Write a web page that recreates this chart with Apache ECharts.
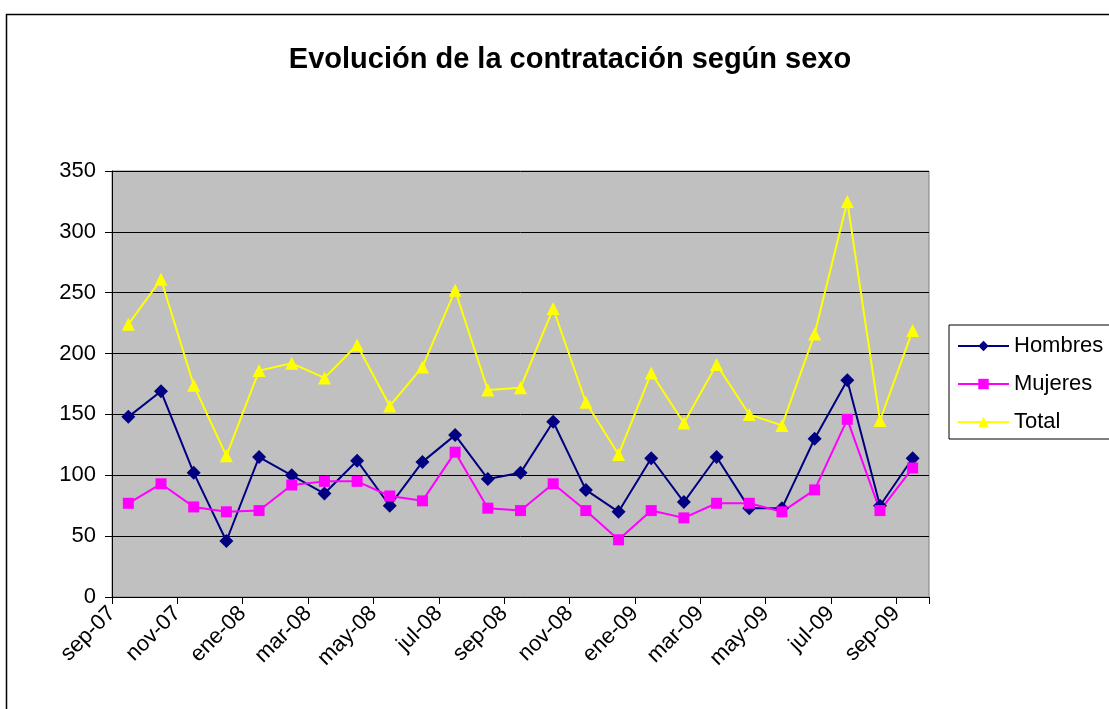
<!DOCTYPE html>
<html>
<head>
<meta charset="utf-8">
<script src="https://cdn.jsdelivr.net/npm/echarts@6/dist/echarts.min.js"></script>
<style>
  html, body { margin: 0; padding: 0; background: #fff; }
  #chart { width: 1109px; height: 709px; }
</style>
</head>
<body>
<div id="chart"></div>
<script>
  // meses (sep-07 .. sep-09)
  var meses = ['sep-07','oct-07','nov-07','dic-07','ene-08','feb-08','mar-08','abr-08','may-08',
    'jun-08','jul-08','ago-08','sep-08','oct-08','nov-08','dic-08','ene-09','feb-09','mar-09',
    'abr-09','may-09','jun-09','jul-09','ago-09','sep-09'];
  var hombres = [148, 169, 102, 46, 115, 100, 85, 112, 75, 111, 133, 97, 102, 144, 88, 70,
    114, 78, 115, 73, 73, 130, 178, 75, 114];
  var mujeres = [77, 93, 74, 70, 71, 92, 95, 95, 83, 79, 119, 73, 71, 93, 71, 47,
    71, 65, 77, 77, 70, 88, 146, 71, 106];
  var total = [224, 261, 174, 116, 186, 192, 180, 207, 157, 189, 252, 170, 172, 237, 160, 117,
    184, 143, 191, 150, 141, 216, 325, 145, 219];
  var yTicks = [0, 50, 100, 150, 200, 250, 300, 350];

  var fuente = '"Liberation Sans", Arial, sans-serif';
  var chart = echarts.init(document.getElementById('chart'));

  chart.setOption({
    animation: false,
    backgroundColor: '#fff',
    title: {
      text: 'Evolución de la contratación según sexo',
      left: 565,
      top: 40,
      textAlign: 'center',
      textStyle: { fontFamily: fuente, fontSize: 29, fontWeight: 'bold', color: '#000' }
    },
    graphic: [{
      type: 'rect',
      left: 4, top: 12,
      shape: { width: 1300, height: 900 },
      style: { fill: 'none', stroke: '#000', lineWidth: 1.5 },
      silent: true
    }],
    legend: {
      orient: 'vertical',
      left: 949,
      top: 325,
      padding: [10, 40, 6, 8],
      itemGap: 16,
      itemWidth: 51,
      itemHeight: 13,
      borderColor: '#000',
      borderWidth: 1,
      backgroundColor: '#fff',
      textStyle: { fontFamily: fuente, fontSize: 22, color: '#000' },
      data: ['Hombres', 'Mujeres', 'Total']
    },
    grid: {
      left: 112, top: 171, width: 817, height: 426,
      show: true,
      backgroundColor: '#C0C0C0',
      borderColor: '#808080',
      borderWidth: 1
    },
    xAxis: [{
      type: 'category',
      data: meses,
      boundaryGap: true,
      axisLine: { lineStyle: { color: '#000', width: 1 } },
      axisTick: {
        show: true,
        length: 7,
        interval: function (i) { return i % 2 === 0 && i < meses.length; },
        lineStyle: { color: '#000', width: 1 }
      },
      axisLabel: { show: false },
      splitLine: { show: false }
    }, {
      // eje sólo para las etiquetas, alineadas con las marcas
      type: 'value',
      position: 'bottom',
      min: 0,
      max: meses.length,
      interval: 2,
      axisLine: { show: false },
      axisTick: { show: false },
      splitLine: { show: false },
      axisLabel: {
        rotate: 45,
        margin: 13,
        fontFamily: fuente,
        fontSize: 22,
        color: '#000',
        showMaxLabel: false,
        formatter: function (v) {
          return (v % 2 === 0 && v < meses.length) ? meses[v] : '';
        }
      }
    }],
    yAxis: {
      type: 'value',
      min: yTicks[0],
      max: yTicks[yTicks.length - 1],
      interval: 50,
      axisLine: { show: true, lineStyle: { color: '#000', width: 1 } },
      axisTick: { show: true, length: 7, lineStyle: { color: '#000', width: 1 } },
      axisLabel: { margin: 16, fontFamily: fuente, fontSize: 22, color: '#000' },
      splitLine: { lineStyle: { color: '#000', width: 1 } }
    },
    series: [{
      name: 'Hombres',
      type: 'line',
      data: hombres,
      symbol: 'diamond',
      symbolSize: 14,
      lineStyle: { color: '#000080', width: 2 },
      itemStyle: { color: '#000080' }
    }, {
      name: 'Mujeres',
      type: 'line',
      data: mujeres,
      symbol: 'rect',
      symbolSize: 11,
      lineStyle: { color: '#FF00FF', width: 2 },
      itemStyle: { color: '#FF00FF' }
    }, {
      name: 'Total',
      type: 'line',
      data: total,
      symbol: 'triangle',
      symbolSize: 13,
      lineStyle: { color: '#FFFF00', width: 2 },
      itemStyle: { color: '#FFFF00' }
    }]
  });
</script>
</body>
</html>
